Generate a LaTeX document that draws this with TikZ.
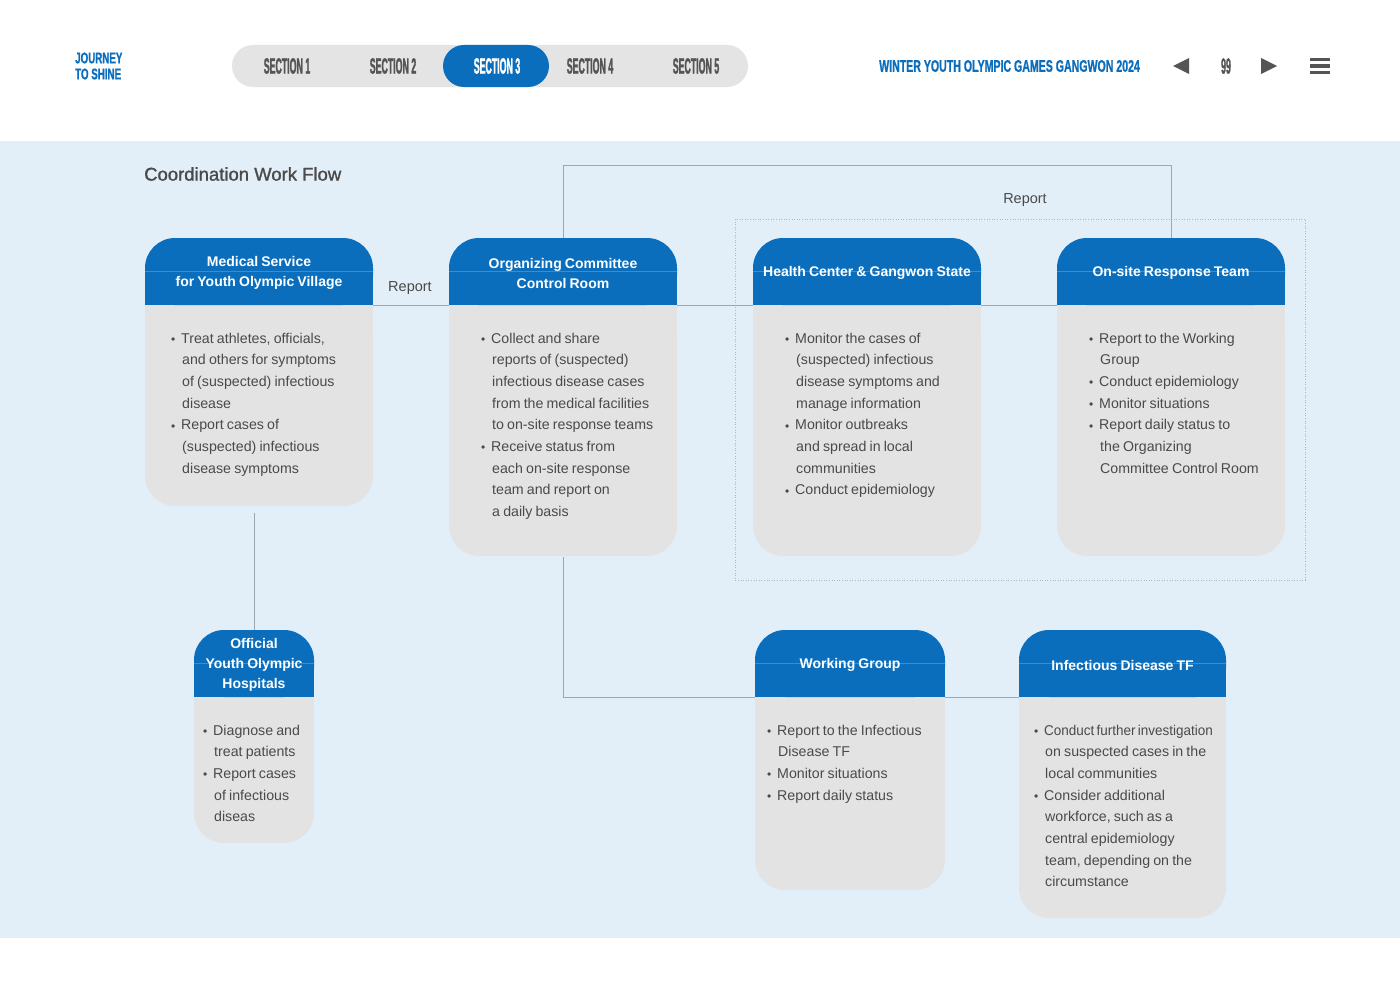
\documentclass[tikz,border=0pt]{standalone}
\usepackage{fontspec}
\setmainfont[WordSpace=0.8]{Liberation Sans}
\newfontfamily\navcond[FakeStretch=0.40, FakeBold=1.2]{Liberation Sans}
\newfontfamily\headcond[FakeStretch=0.63, FakeBold=0.8]{Liberation Sans}
\newfontfamily\titlefont[FakeBold=1.3]{Liberation Sans}
\definecolor{hdrblue}{HTML}{0A6EBD}
\definecolor{hdrline}{HTML}{3D8DCC}
\definecolor{navgray}{HTML}{E4E4E4}
\definecolor{bodygray}{HTML}{E3E3E3}
\definecolor{lightbg}{HTML}{E3EFF8}
\definecolor{txtgray}{HTML}{4A4A4A}
\definecolor{navtxt}{HTML}{555555}
\definecolor{connc}{HTML}{9DA7B0}
\definecolor{dotc}{HTML}{AEB7C0}
\newcommand\bul{\makebox[10pt][l]{\raisebox{-0.3pt}{\fontsize{12}{12}\selectfont •}}}
\newcommand\ind{\hspace*{11pt}}
\tikzset{
  hdrtext/.style={text=white, align=center, inner sep=0pt, font=\bfseries\fontsize{14}{20}\selectfont},
  bodytext/.style={text=txtgray, align=left, inner sep=0pt, font=\fontsize{14.2}{21.67}\selectfont},
  conn/.style={draw=connc, line width=1pt},
  dotbox/.style={draw=dotc, line width=0.8pt, dash pattern=on 1pt off 1.6pt},
  lbl/.style={text=txtgray, inner sep=0pt, font=\fontsize{14.5}{16}\selectfont},
  navlbl/.style={inner sep=0pt, font=\navcond\bfseries\fontsize{22}{22}\selectfont},
  hdrmid/.style={draw=hdrline, line width=0.7pt},
}
% name, x1, ytop, width, ybot, textoffset, header, body
\newcommand\flowbox[8]{%
  \pgfmathsetmacro\fbxR{#2+#4}%
  \pgfmathsetmacro\fbyM{#3+67}%
  \pgfmathsetmacro\fbxC{#2+#4/2}%
  \pgfmathsetmacro\fbyHC{#3+33.5}%
  \pgfmathsetmacro\fbyBC{(\fbyM+#5)/2}%
  \pgfmathsetmacro\fbBH{#5-\fbyM}%
  \fill[bodygray, rounded corners=30pt] (#2,\fbyM) rectangle (\fbxR,#5);
  \fill[bodygray] (#2,\fbyM) rectangle (\fbxR,{#5-35});
  \fill[hdrblue, rounded corners=30pt] (#2,#3) rectangle (\fbxR,\fbyM);
  \fill[hdrblue] (#2,{#3+35}) rectangle (\fbxR,\fbyM);
  \draw[hdrmid] (#2,\fbyHC) -- (\fbxR,\fbyHC);
  \node[minimum width=#4, minimum height=67, inner sep=0pt] (#1-h) at (\fbxC,\fbyHC) {};
  \node[hdrtext] (#1-ht) at ([yshift=-1.8pt]#1-h.center) {#7};
  \node[minimum width=#4, minimum height=\fbBH, inner sep=0pt] (#1-b) at (\fbxC,\fbyBC) {};
  \node[bodytext, anchor=north west] (#1-t) at ({#2+#6},{\fbyM+22.8}) {#8};
}
\begin{document}
\begin{tikzpicture}[x=1pt,y=-1pt]
\useasboundingbox (0,0) rectangle (1400,990);
\fill[white] (0,0) rectangle (1400,990);
\fill[lightbg] (0,141) rectangle (1400,938);

% top navigation
\node[anchor=west, align=left, text=hdrblue, inner sep=0pt,
      font=\headcond\bfseries\fontsize{15.5}{16}\selectfont] (logo) at (75,66) {JOURNEY\\TO SHINE};
\node[fill=navgray, rounded corners=21pt, minimum width=516, minimum height=42, inner sep=0pt] (nav) at (490,66) {};
\node[fill=hdrblue, rounded corners=21pt, minimum width=106, minimum height=42, inner sep=0pt] (navsel) at (496,66) {};
\node[navlbl, text=navtxt] (s1) at (287,66) {SECTION 1};
\node[navlbl, text=navtxt] (s2) at (393,66) {SECTION 2};
\node[navlbl, text=white] (s3) at (497,66) {SECTION 3};
\node[navlbl, text=navtxt] (s4) at (590,66) {SECTION 4};
\node[navlbl, text=navtxt] (s5) at (696,66) {SECTION 5};
\node[anchor=west, text=hdrblue, inner sep=0pt,
      font=\headcond\bfseries\fontsize{16.8}{17}\selectfont] (games) at (879,66) {WINTER YOUTH OLYMPIC GAMES GANGWON 2024};
\fill[navtxt] (1189,58) -- (1173,66) -- (1189,74) -- cycle;
\node[navlbl, text=navtxt] (page) at (1226,66) {99};
\fill[navtxt] (1261,58) -- (1277,66) -- (1261,74) -- cycle;
\fill[navtxt] (1310,58) rectangle (1330,61.5);
\fill[navtxt] (1310,64.5) rectangle (1330,68);
\fill[navtxt] (1310,71) rectangle (1330,74.5);

% title
\node[anchor=west, text=txtgray, inner sep=0pt, font=\titlefont\fontsize{18.5}{20}\selectfont] (title) at (144,174) {Coordination Work Flow};

% dotted group
\draw[dotbox] (735,219) rectangle (1305,580);

% boxes
\flowbox{mv}{145}{238}{228}{506}{26}{Medical Service\\for Youth Olympic Village}{%
\strut\bul Treat athletes, officials,\\
\ind and others for symptoms\\
\ind of (suspected) infectious\\
\ind disease\\
\bul Report cases of\\
\ind (suspected) infectious\\
\ind disease symptoms}
\flowbox{oc}{449}{238}{228}{556}{32}{Organizing Committee\\Control Room}{%
\strut\bul Collect and share\\
\ind reports of (suspected)\\
\ind infectious disease cases\\
\ind from the medical facilities\\
\ind to on-site response teams\\
\bul Receive status from\\
\ind each on-site response\\
\ind team and report on\\
\ind a daily basis}
\flowbox{hc}{753}{238}{228}{556}{32}{Health Center \& Gangwon State}{%
\strut\bul Monitor the cases of\\
\ind (suspected) infectious\\
\ind disease symptoms and\\
\ind manage information\\
\bul Monitor outbreaks\\
\ind and spread in local\\
\ind communities\\
\bul Conduct epidemiology}
\flowbox{os}{1057}{238}{228}{556}{32}{On-site Response Team}{%
\strut\bul Report to the Working\\
\ind Group\\
\bul Conduct epidemiology\\
\bul Monitor situations\\
\bul Report daily status to\\
\ind the Organizing\\
\ind Committee Control Room}
\flowbox{oh}{194}{630}{120}{843}{9}{Official\\Youth Olympic\\Hospitals}{%
\strut\bul Diagnose and\\
\ind treat patients\\
\bul Report cases\\
\ind of infectious\\
\ind diseas}
\flowbox{wg}{755}{630}{190}{890}{12}{Working Group}{%
\strut\bul Report to the Infectious\\
\ind Disease TF\\
\bul Monitor situations\\
\bul Report daily status}
\flowbox{tf}{1019}{630}{207}{918}{15}{Infectious Disease TF}{%
\strut\bul {\addfontfeature{FakeStretch=0.95}\spaceskip=2.2pt Conduct further investigation}\\
\ind on suspected cases in the\\
\ind local communities\\
\bul Consider additional\\
\ind workforce, such as a\\
\ind central epidemiology\\
\ind team, depending on the\\
\ind circumstance}

% connectors
\coordinate (looptop) at (0,165);
\draw[conn] (mv-h.south east) -- (oc-h.south west);
\draw[conn] (oc-h.south east) -- (hc-h.south west);
\draw[conn] (hc-h.south east) -- (os-h.south west);
\draw[conn] (oc-h.north) |- (os-h.north |- looptop) -- (os-h.north);
\draw[conn, shorten <=7pt] (oh-h.north |- mv-b.south) -- (oh-h.north);
\draw[conn, shorten <=1pt] (oc-b.south) |- (wg-h.south west);
\draw[conn] (wg-h.south east) -- (tf-h.south west);
\node[lbl] (rep1) at (410,288) {Report};
\node[lbl] (rep2) at (1025,200) {Report};
\end{tikzpicture}
\end{document}
